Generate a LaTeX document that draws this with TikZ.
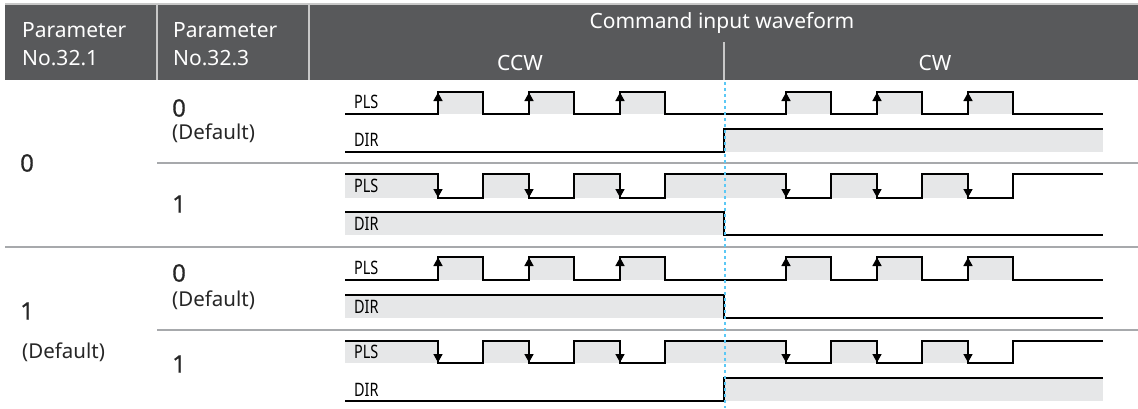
\documentclass[tikz,border=0pt]{standalone}
\usepackage{fontspec}
\setmainfont{Noto Sans}
\newfontfamily\lblfont[FakeStretch=0.78]{Noto Sans}
\newfontfamily\digfont[FakeBold=0.5]{Noto Sans}
\usetikzlibrary{arrows.meta}
\definecolor{hdrgray}{HTML}{58595B}
\definecolor{hdrline}{HTML}{C8C8C8}
\definecolor{fillgray}{HTML}{E6E7E8}
\definecolor{sepgray}{HTML}{A7A9AC}
\definecolor{dashblue}{HTML}{5BC8F5}
\begin{document}
\begin{tikzpicture}[x=1pt,y=-1pt,
  sig/.style={line width=1.6pt, black, line join=miter},
  shade/.style={fill=fillgray},
  sepline/.style={draw=sepgray, line width=1.2pt},
  hline/.style={draw=hdrline, line width=1.2pt},
  edgearrow/.style={-{Triangle[length=8.5pt,width=9pt]}, line width=1.6pt},
  lbl/.style={font=\lblfont\fontsize{18.5}{18.5}\selectfont, anchor=west, inner sep=0pt},
  hdr/.style={text=white, font=\fontsize{21}{21}\selectfont, inner sep=0pt},
  hdrl/.style={hdr, anchor=base west},
  big/.style={font=\digfont\fontsize{24}{24}\selectfont, text=black!85, inner sep=0pt, anchor=west},
  dflt/.style={font=\fontsize{20.5}{20.5}\selectfont, text=black!85, inner sep=0pt, anchor=west},
  cdash/.style={draw=dashblue, line width=1.3pt, dash pattern=on 3pt off 3pt}]
\useasboundingbox (0,0) rectangle (1138,408);
% header
\fill[hdrgray] (5,4) rectangle (1138,80);
\draw[hline] (5,4) -- (1138,4);
\draw[hline] (157,4) -- (157,80);
\draw[hline] (309,4) -- (309,80);
\draw[hline] (724,42) -- (724,80);
\node[hdrl] (p1a) at (22,37) {Parameter};
\node[hdrl] (p1b) at (22,65) {No.32.1};
\node[hdrl] (p3a) at (173,37) {Parameter};
\node[hdrl] (p3b) at (173,65) {No.32.3};
\node[hdr, anchor=base] (cmd) at (722,28) {Command input waveform};
\node[hdr, anchor=base] (ccw) at (520,70) {CCW};
\node[hdr, anchor=base] (cw) at (935,70) {CW};
% separators
\draw[sepline] (157,163) -- (1138,163);
\draw[sepline] (5,247) -- (1138,247);
\draw[sepline] (157,330) -- (1138,330);
% left texts
\node[big] (a0) at (20,163) {0};
\node[big] (b0) at (172,108) {0};
\node[dflt] (b0d) at (172,133) {(Default)};
\node[big] (b1) at (172,204) {1};
\node[big] (a1) at (20,311) {1};
\node[dflt] (a1d) at (22,352) {(Default)};
\node[big] (c0) at (172,273) {0};
\node[dflt] (c0d) at (172,300) {(Default)};
\node[big] (c1) at (172,364) {1};
% ---------- Row A ----------
\foreach \r in {438,529,620,786,877,968} \fill[shade] (\r,92) rectangle (\r+45,114);
\fill[shade] (724,129) rectangle (1103,152);
\node[lbl] (plsA) at (354,102) {PLS};
\node[lbl] (dirA) at (354,140) {DIR};
\draw[sig] (345,114) \foreach \r in {438,529,620,786,877,968}{ -- (\r,114) -- (\r,92) -- (\r+45,92) -- (\r+45,114)} -- (1103,114);
\foreach \r in {438,529,620,786,877,968} \draw[edgearrow] (\r,114) -- (\r,92.5);
\draw[sig] (345,152) -- (724,152) -- (724,129) -- (1103,129);
% ---------- Row B ----------
\foreach \a/\b in {345/438,483/529,574/620,665/786,831/877,922/968} \fill[shade] (\a,174) rectangle (\b,198);
\fill[shade] (345,212) rectangle (724,235);
\node[lbl] (plsB) at (354,186) {PLS};
\node[lbl] (dirB) at (354,224) {DIR};
\draw[sig] (345,174) \foreach \r in {438,529,620,786,877,968}{ -- (\r,174) -- (\r,198) -- (\r+45,198) -- (\r+45,174)} -- (1103,174);
\foreach \r in {438,529,620,786,877,968} \draw[edgearrow] (\r,174) -- (\r,197.5);
\draw[sig] (345,212) -- (724,212) -- (724,235) -- (1103,235);
% ---------- Row C ----------
\foreach \r in {438,529,620,786,877,968} \fill[shade] (\r,257) rectangle (\r+45,280);
\fill[shade] (345,295) rectangle (724,318);
\node[lbl] (plsC) at (354,268) {PLS};
\node[lbl] (dirC) at (354,307) {DIR};
\draw[sig] (345,280) \foreach \r in {438,529,620,786,877,968}{ -- (\r,280) -- (\r,257) -- (\r+45,257) -- (\r+45,280)} -- (1103,280);
\foreach \r in {438,529,620,786,877,968} \draw[edgearrow] (\r,280) -- (\r,257.5);
\draw[sig] (345,295) -- (724,295) -- (724,318) -- (1103,318);
% ---------- Row D ----------
\foreach \a/\b in {345/438,483/529,574/620,665/786,831/877,922/968} \fill[shade] (\a,341) rectangle (\b,363);
\fill[shade] (724,378) rectangle (1103,401);
\node[lbl] (plsD) at (354,352) {PLS};
\node[lbl] (dirD) at (354,390) {DIR};
\draw[sig] (345,341) \foreach \r in {438,529,620,786,877,968}{ -- (\r,341) -- (\r,363) -- (\r+45,363) -- (\r+45,341)} -- (1103,341);
\foreach \r in {438,529,620,786,877,968} \draw[edgearrow] (\r,341) -- (\r,362.5);
\draw[sig] (345,401) -- (724,401) -- (724,378) -- (1103,378);
% dashed divider
\draw[cdash] (725,82) -- (725,408);
\end{tikzpicture}
\end{document}
